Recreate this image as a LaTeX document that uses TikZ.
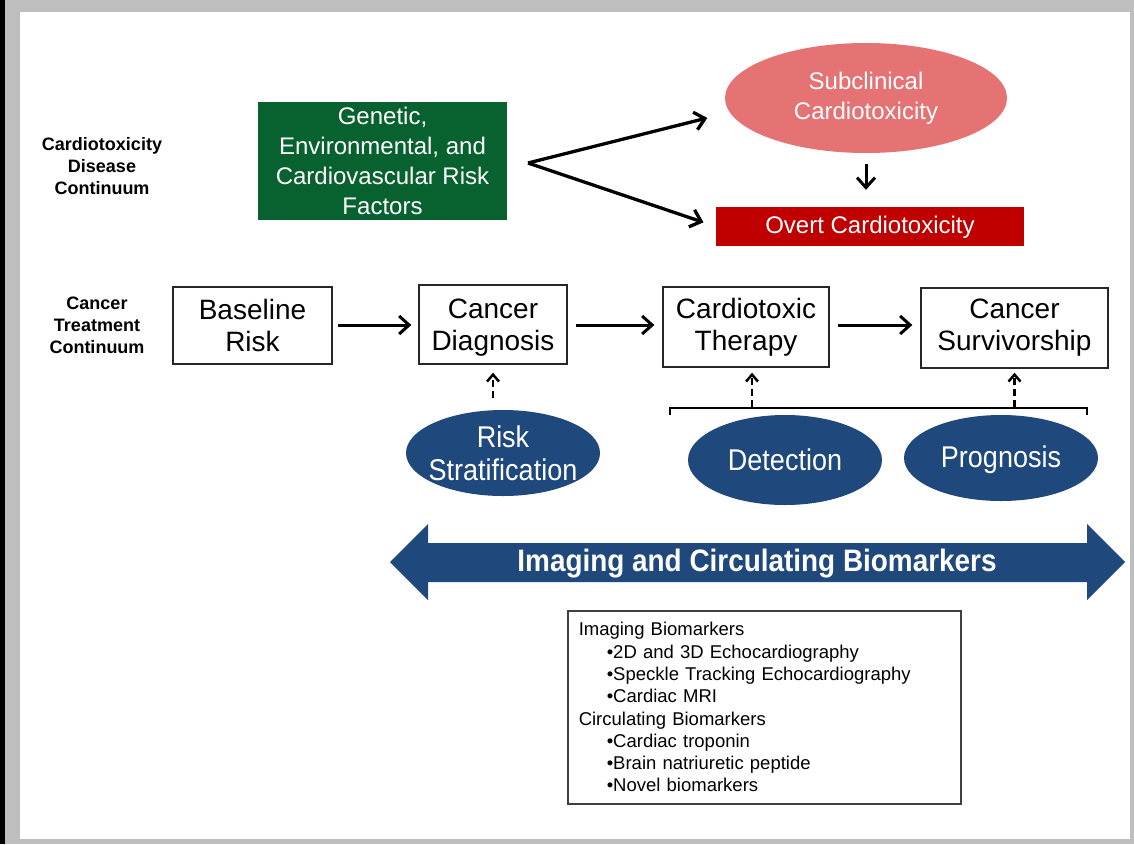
\documentclass[tikz,border=0pt]{standalone}
\usepackage{fontspec}
\setmainfont{Liberation Sans}
\newfontfamily\narrowfont[FakeStretch=0.9]{Liberation Sans}
\usepackage{tikz}
\usetikzlibrary{arrows.meta,positioning,shapes.geometric,calc}

\definecolor{riskgreen}{RGB}{8,98,48}
\definecolor{subpink}{RGB}{229,115,115}
\definecolor{overtred}{RGB}{192,0,0}
\definecolor{markerblue}{RGB}{31,73,125}
\definecolor{framegray}{RGB}{190,190,190}

\begin{document}
\begin{tikzpicture}[x=1pt, y=-1pt]
        \tikzstyle{stage} = [rectangle, draw=black!85, line width=1.3pt, align=center, inner sep=0pt, font=\fontsize{28}{32}\selectfont]
        \tikzstyle{factor} = [rectangle, align=center, text=white, inner sep=0pt, font=\fontsize{24}{30}\selectfont]
        \tikzstyle{marker} = [ellipse, fill=markerblue, text=white, align=center, inner sep=0pt, minimum width=194pt, font=\narrowfont\fontsize{30}{33}\selectfont]
        \tikzstyle{rowlabel} = [align=center, font=\bfseries\fontsize{18}{22}\selectfont]
        \tikzstyle{arrow} = [-{Straight Barb[length=10pt,width=18pt]}, line width=3pt]
        \tikzstyle{dasharrow} = [-{Straight Barb[length=7pt,width=12pt]}, line width=2.5pt, dash pattern=on 7pt off 4pt]

        % frame
        \useasboundingbox (0,0) rectangle (1134,844);
        \fill[framegray] (0,0) rectangle (1134,844);
        \fill[black] (0,0) rectangle (5,844);
        \fill[white] (20,12) rectangle (1130,839);

        % row labels
        \node (disease) [rowlabel] at (102,166) {Cardiotoxicity\\Disease\\Continuum};
        \node (treatment) [rowlabel] at (97,325) {Cancer\\Treatment\\Continuum};

        % disease continuum
        \node (factors) [factor, fill=riskgreen, minimum width=249pt, minimum height=118pt] at (382.5,161) {Genetic,\\Environmental, and\\Cardiovascular Risk\\Factors};
        \node (subcl) [factor, ellipse, fill=subpink, minimum width=282pt, minimum height=110pt] at (866,98) {Subclinical\\Cardiotoxicity};
        \node (overt) [factor, fill=overtred, minimum width=308pt, minimum height=39pt, text depth=3pt] at (870,226.5) {Overt Cardiotoxicity};
        \coordinate (fork) at (528,163);

        \draw[arrow, line width=3.3pt, shorten >=23pt] (fork) -- (subcl.186);
        \draw[arrow, line width=3.3pt, shorten >=13pt] (fork) -- (overt.west);
        \draw[arrow, shorten <=11pt, shorten >=17pt] (subcl.south) -- (subcl.south |- overt.north);

        % treatment continuum
        \node (basel) [stage, minimum width=159pt, minimum height=77pt] at (252.5,325.5) {Baseline\\Risk};
        \node (diag) [stage, minimum width=148pt, minimum height=79pt, text depth=0pt] at (493,324.5) {Cancer\\Diagnosis};
        \node (therapy) [stage, minimum width=166pt, minimum height=80pt] at (746,327) {Cardiotoxic\\Therapy};
        \node (surv) [stage, minimum width=187pt, minimum height=80pt] at (1014.5,328) {Cancer\\Survivorship};

        \draw[arrow, shorten <=5pt, shorten >=7pt] (basel.east |- 0,325) -- (diag.west |- 0,325);
        \draw[arrow, shorten <=8pt, shorten >=8pt] (diag.east |- 0,325) -- (therapy.west |- 0,325);
        \draw[arrow, shorten <=8pt, shorten >=8pt] (therapy.east |- 0,325) -- (surv.west |- 0,325);

        % biomarker roles
        \node (risk) [marker, inner xsep=-10pt, minimum height=86pt] at (503,453) {Risk\\Stratification};
        \node (detect) [marker, minimum height=90pt] at (785,460) {Detection};
        \node (progn) [marker, minimum height=86pt, text depth=2pt] at (1001,458) {Prognosis};

        \coordinate (brkL) at (670,415);
        \coordinate (brkR) at (1087,415);
        \draw[line width=2.6pt] (brkL) -- ++(0,-7) -- ($(brkR)+(0,-7)$) -- (brkR);

        \draw[dasharrow, shorten <=12pt, shorten >=8pt] (risk.north -| diag.south) -- (diag.south);
        \draw[dasharrow, shorten >=5pt] ($(therapy.south |- brkL)+(6,-8)$) -- ($(therapy.south)+(6,0)$);
        \draw[dasharrow, shorten >=4pt] ($(surv.south |- brkL)+(0,-8)$) -- (surv.south);

        % imaging and circulating biomarkers
        \fill[markerblue] (390,562) -- (428,524) -- (428,543) -- (1087,543) -- (1087,524) -- (1125,562)
            -- (1087,600) -- (1087,582) -- (428,582) -- (428,600) -- cycle;
        \node (band) [text=white, font=\narrowfont\bfseries\fontsize{31}{34}\selectfont] at (757,564) {Imaging and Circulating Biomarkers};

        \node (list) [draw=black!75, line width=1.5pt, anchor=north west, minimum width=393pt, minimum height=193pt,
            text width=371pt, inner xsep=11pt, align=left, font=\fontsize{18.5}{22.3}\selectfont] at (567,610)
            {Imaging Biomarkers\\
             \hspace*{28pt}•2D and 3D Echocardiography\\
             \hspace*{28pt}•Speckle Tracking Echocardiography\\
             \hspace*{28pt}•Cardiac MRI\\
             Circulating Biomarkers\\
             \hspace*{28pt}•Cardiac troponin\\
             \hspace*{28pt}•Brain natriuretic peptide\\
             \hspace*{28pt}•Novel biomarkers};
\end{tikzpicture}
\end{document}
